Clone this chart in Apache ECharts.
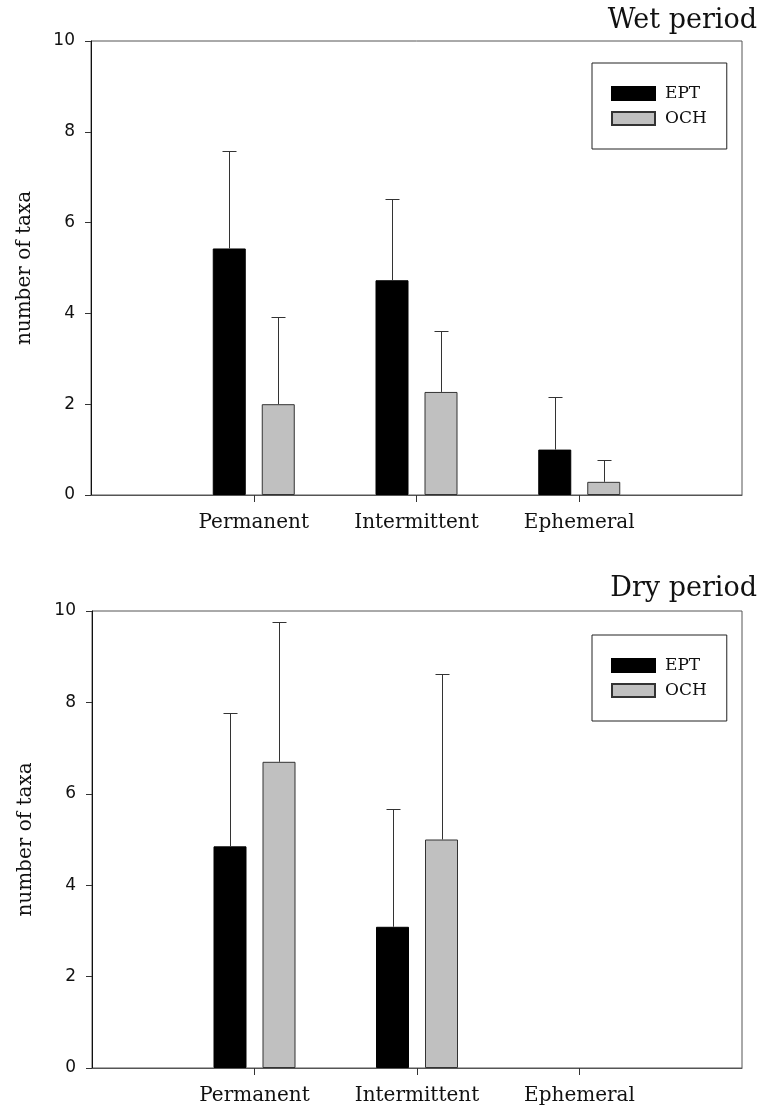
<!DOCTYPE html>
<html>
<head>
<meta charset="utf-8">
<script src="https://cdn.jsdelivr.net/npm/echarts@6/dist/echarts.min.js"></script>
<style>
  html, body { margin: 0; padding: 0; background: #fff; }
  #main { width: 765px; height: 1113px; }
</style>
</head>
<body>
<div id="main"></div>
<script>
// data
var categories = ['Permanent', 'Intermittent', 'Ephemeral'];
var yTicks = [0, 2, 4, 6, 8, 10];

var wetEPT = [5.43, 4.73, 1.0];
var wetEPTsd = [2.15, 1.80, 1.16];
var wetOCH = [2.0, 2.27, 0.29];
var wetOCHsd = [1.91, 1.35, 0.49];

var dryEPT = [4.85, 3.09, 0];
var dryEPTsd = [2.91, 2.58, 0];
var dryOCH = [6.70, 5.0, 0];
var dryOCHsd = [3.05, 3.62, 0];

var serif = 'DejaVu Serif';
var sans = 'DejaVu Sans';
var barW = 33;
var gapPx = 16;
var halfStep = (barW + gapPx) / 2;

// empty slots at both ends so the categories sit at 1/4, 2/4, 3/4
var axisCats = [''].concat(categories, ['']);
// a zero mean draws no bar at all in the original
function pad(arr) {
    return ['-'].concat(arr.map(function (v) { return v === 0 ? '-' : v; }), ['-']);
}

function errData(mean, sd) {
    return mean.map(function (m, i) { return [i + 1, m, m + sd[i]]; });
}

function errSeries(name, idx, mean, sd, offset) {
    return {
        name: name,
        type: 'custom',
        xAxisIndex: idx,
        yAxisIndex: idx,
        z: 3,
        data: errData(mean, sd),
        encode: { x: 0, y: [1, 2] },
        renderItem: function (params, api) {
            var lo = api.value(1), hi = api.value(2);
            if (!(hi > lo)) return null;
            var b = api.coord([api.value(0), lo]);
            var t = api.coord([api.value(0), hi]);
            var cx = Math.round(b[0] + offset) + 0.5;
            var ty = Math.round(t[1]) + 0.5;
            var st = { stroke: '#333', lineWidth: 1 };
            return {
                type: 'group',
                children: [
                    { type: 'line', shape: { x1: cx, y1: b[1], x2: cx, y2: ty }, style: st },
                    { type: 'line', shape: { x1: cx - 7, y1: ty, x2: cx + 7, y2: ty }, style: st }
                ]
            };
        }
    };
}

function barSeries(name, idx, vals, color, border) {
    return {
        name: name,
        type: 'bar',
        xAxisIndex: idx,
        yAxisIndex: idx,
        barWidth: barW,
        barGap: (gapPx / barW * 100) + '%',
        data: pad(vals),
        itemStyle: { color: color, borderColor: border, borderWidth: 1 }
    };
}

function xAxisFor(idx) {
    return {
        type: 'category',
        gridIndex: idx,
        data: axisCats,
        boundaryGap: false,
        axisLine: { lineStyle: { color: '#555', width: 1 } },
        axisTick: {
            length: 7,
            lineStyle: { color: '#333' },
            interval: function (i) { return i > 0 && i < axisCats.length - 1; }
        },
        axisLabel: {
            interval: 0,
            margin: 18,
            fontFamily: serif,
            fontSize: 20,
            color: '#111'
        },
        splitLine: { show: false }
    };
}

function yAxisFor(idx) {
    return {
        type: 'value',
        gridIndex: idx,
        min: yTicks[0],
        max: yTicks[yTicks.length - 1],
        interval: 2,
        name: 'number of taxa',
        nameLocation: 'middle',
        nameGap: 56,
        nameTextStyle: { fontFamily: serif, fontSize: 20, color: '#111' },
        axisLine: { show: true, lineStyle: { color: '#111', width: 1 } },
        axisTick: { show: true, length: 6, lineStyle: { color: '#333' } },
        axisLabel: { margin: 16, fontFamily: sans, fontSize: 17, color: '#111' },
        splitLine: { show: false }
    };
}

function legendFor(top) {
    return {
        orient: 'vertical',
        left: 592,
        top: top,
        data: ['EPT', 'OCH'],
        icon: 'rect',
        itemWidth: 43,
        itemHeight: 13,
        itemGap: 8,
        padding: [22, 20, 22, 19],
        borderColor: '#222',
        borderWidth: 1,
        selectedMode: false,
        textStyle: { fontFamily: serif, fontSize: 17, color: '#111', padding: [0, 0, 0, 5] }
    };
}

var myChart = echarts.init(document.getElementById('main'));

var option = {
    animation: false,
    backgroundColor: '#fff',
    title: [
        { text: 'Wet period', right: 3, top: 2, textStyle: { fontFamily: serif, fontSize: 27, fontWeight: 'normal', color: '#111' } },
        { text: 'Dry period', right: 3, top: 570, textStyle: { fontFamily: serif, fontSize: 27, fontWeight: 'normal', color: '#111' } }
    ],
    legend: [legendFor(63), legendFor(635)],
    grid: [
        { left: 91, right: 23, top: 41, height: 454, show: true, borderColor: '#555', borderWidth: 1 },
        { left: 92, right: 23, top: 611, height: 457, show: true, borderColor: '#555', borderWidth: 1 }
    ],
    xAxis: [xAxisFor(0), xAxisFor(1)],
    yAxis: [yAxisFor(0), yAxisFor(1)],
    series: [
        barSeries('EPT', 0, wetEPT, '#000', '#000'),
        barSeries('OCH', 0, wetOCH, '#c0c0c0', '#333'),
        errSeries('EPT sd wet', 0, wetEPT, wetEPTsd, -halfStep),
        errSeries('OCH sd wet', 0, wetOCH, wetOCHsd, halfStep),
        barSeries('EPT', 1, dryEPT, '#000', '#000'),
        barSeries('OCH', 1, dryOCH, '#c0c0c0', '#333'),
        errSeries('EPT sd dry', 1, dryEPT, dryEPTsd, -halfStep),
        errSeries('OCH sd dry', 1, dryOCH, dryOCHsd, halfStep)
    ]
};

myChart.setOption(option);
</script>
</body>
</html>
